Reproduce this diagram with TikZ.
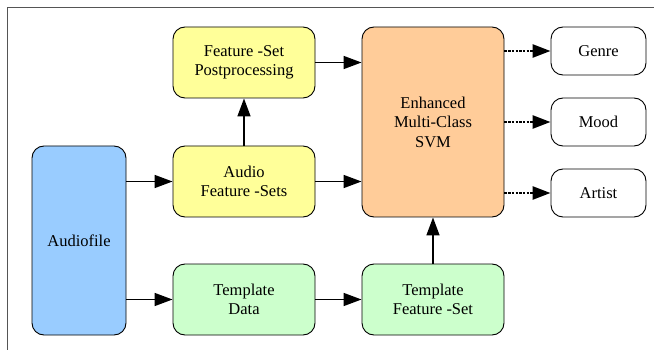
\documentclass[tikz,border=0pt]{standalone}
\usepackage{fontspec}
\setmainfont{Liberation Serif}
\usetikzlibrary{positioning,arrows.meta}
\definecolor{yellowbox}{HTML}{FFFF99}
\definecolor{bluebox}{HTML}{99CCFF}
\definecolor{greenbox}{HTML}{CCFFCC}
\definecolor{orangebox}{HTML}{FFCC99}
\definecolor{frame}{HTML}{555555}
\tikzset{
  block/.style={draw,rounded corners=12pt,line width=0.9pt,align=center,inner sep=0pt,font=\fontspec{Liberation Serif}\fontsize{16.5}{19.5}\selectfont,minimum width=142pt,minimum height=71pt},
  outbox/.style={block,fill=white,minimum width=95pt,minimum height=48pt},
  flow/.style={line width=1.6pt,-{Triangle[length=18pt,width=13pt]}},
  dotflow/.style={flow,dash pattern=on 2.5pt off 1.2pt,line width=2.6pt}
}
\begin{document}
\begin{tikzpicture}[x=1pt,y=-1pt]
        \useasboundingbox (0,0) rectangle (654,350);
        \draw[frame,line width=1pt] (7,352)--(7,8)--(656,8);
        \node[block,fill=bluebox,minimum width=94pt,minimum height=189pt] (audiofile) at (79,240.5){Audiofile};
        \node[block,fill=yellowbox] (postproc) at (244,62.5){Feature -Set\\Postprocessing};
        \node[block,fill=yellowbox] (audiofs) at (244,181.5){Audio\\Feature -Sets};
        \node[block,fill=greenbox] (tdata) at (244,299.5){Template\\Data};
        \node[block,fill=orangebox,minimum height=190pt] (svm) at (433,122){Enhanced\\Multi-Class\\SVM};
        \node[block,fill=greenbox] (tfs) at (433,299.5){Template\\Feature -Set};
        \node[outbox] (genre) at (598.5,51){Genre};
        \node[outbox] (mood) at (598.5,122){Mood};
        \node[outbox] (artist) at (598.5,193){Artist};
        \draw[flow] (audiofile.east|-audiofs) -- (audiofs);
        \draw[flow] (audiofile.east|-tdata) -- (tdata);
        \draw[flow] (audiofs) -- (postproc);
        \draw[flow] (postproc.east) -- (postproc.east-|svm.west);
        \draw[flow] (audiofs.east) -- (audiofs.east-|svm.west);
        \draw[flow] (tdata) -- (tfs);
        \draw[flow] (tfs) -- (svm);
        \foreach \target in {genre,mood,artist}{\draw[dotflow] (svm.east|-\target) -- (\target);}
      \end{tikzpicture}
\end{document}
